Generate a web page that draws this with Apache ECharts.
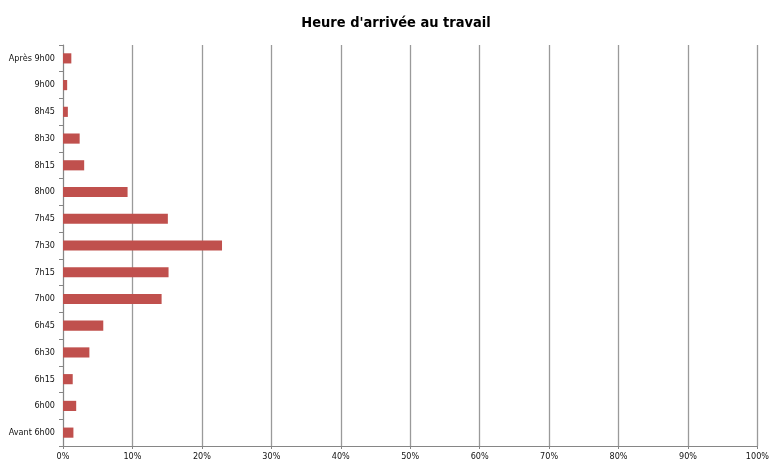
<!DOCTYPE html>
<html>
<head>
<meta charset="utf-8">
<script src="https://cdn.jsdelivr.net/npm/echarts@6/dist/echarts.min.js"></script>
<style>html,body{margin:0;padding:0;background:#fff}#c{width:772px;height:463px}</style>
</head>
<body>
<div id="c"></div>
<script>
const categories = ['Avant 6h00','6h00','6h15','6h30','6h45','7h00','7h15','7h30','7h45','8h00','8h15','8h30','8h45','9h00','Après 9h00'];
const values = [1.5, 1.9, 1.4, 3.8, 5.8, 14.2, 15.2, 22.9, 15.1, 9.3, 3.05, 2.4, 0.7, 0.6, 1.2];
const xTicks = [0,10,20,30,40,50,60,70,80,90,100];

const font = "'Liberation Sans Narrow', 'Arial Narrow', 'DejaVu Sans Condensed', 'Liberation Sans', Arial, sans-serif";
const chart = echarts.init(document.getElementById('c'), null, {renderer: 'canvas'});
chart.setOption({
  animation: false,
  backgroundColor: '#fff',
  title: {
    text: "Heure d'arrivée au travail",
    left: 391, top: 11, textAlign: 'center',
    textStyle: {fontFamily: font, fontSize: 14.5, fontWeight: 'bold', color: '#000'}
  },
  grid: {left: 63, right: 9, top: 45, bottom: 17, containLabel: false},
  xAxis: {
    type: 'value', min: xTicks[0], max: xTicks[xTicks.length-1], interval: 10,
    axisLine: {show: true, lineStyle: {color: '#868686', width: 1}},
    axisTick: {show: true, length: 3, lineStyle: {color: '#868686'}},
    axisLabel: {formatter: v => v + '%', fontFamily: font, fontSize: 9, color: '#111', margin: 6},
    splitLine: {show: true, lineStyle: {color: '#9a9a9a', width: 1.3}}
  },
  yAxis: {
    type: 'category', data: categories,
    axisLine: {show: true, lineStyle: {color: '#868686', width: 1}},
    axisTick: {show: true, length: 4, lineStyle: {color: '#868686'}},
    axisLabel: {fontFamily: font, fontSize: 9, color: '#111', margin: 8},
    splitLine: {show: false}
  },
  series: [{
    type: 'bar', data: values, barWidth: '38%',
    itemStyle: {color: '#C0504D'}
  }]
});
</script>
</body>
</html>
